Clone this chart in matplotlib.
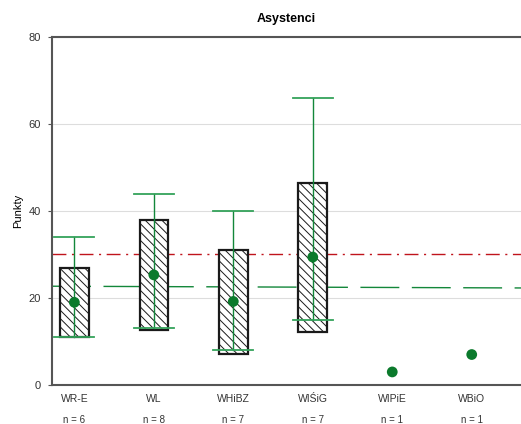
import matplotlib.pyplot as plt
from matplotlib.patches import Rectangle
from matplotlib.transforms import blended_transform_factory

categories = ["WR-E", "WL", "WHiBZ", "WIŚiG", "WIPiE", "WBiO"]
counts = [6, 8, 7, 7, 1, 1]
means = [19, 25.3, 19.2, 29.4, 3, 7]
box_low = [11, 12.6, 7.2, 12.2, None, None]
box_high = [27, 38, 31, 46.4, None, None]
whisk_low = [11, 13, 8, 15, None, None]
whisk_high = [34, 44, 40, 66, None, None]
ref_red = 30.0
ref_green = [22.7, 22.3]

GREEN = "#13873a"
CAP = "#34a25a"
DOT = "#0b7a2c"


def main():
    plt.rcParams['font.family'] = ['Liberation Sans', 'DejaVu Sans']
    plt.rcParams['hatch.linewidth'] = 0.7
    plt.rcParams['hatch.color'] = '#222222'

    fig = plt.figure(figsize=(5.21, 4.24), dpi=100)
    ax = fig.add_axes([0.1, 0.092, 0.9, 0.821])

    x = list(range(len(categories)))
    box_w = 0.36
    cap_w = 0.25

    for i in x:
        if box_low[i] is not None:
            ax.add_patch(Rectangle((i - box_w / 2, box_low[i]), box_w,
                                   box_high[i] - box_low[i], facecolor='white',
                                   edgecolor='#1a1a1a', hatch='\\\\\\\\', lw=1.6, zorder=2))
        if whisk_low[i] is not None:
            ax.plot([i, i], [whisk_low[i], whisk_high[i]], color=GREEN, lw=1, zorder=3)
            for v in (whisk_low[i], whisk_high[i]):
                ax.plot([i - cap_w, i + cap_w], [v, v], color=CAP, lw=1.3, zorder=3)

    # reference levels
    ax.axhline(ref_red, color='#c0141c', lw=1, dashes=(10, 4, 1.5, 4), zorder=1)
    ax.plot([-0.28, 5.62], ref_green, color=GREEN, lw=1, dashes=(28, 9), zorder=1)

    ax.scatter(x, means, s=60, color=DOT, zorder=4, edgecolors='none')

    ax.set_xlim(-0.28, 5.62)
    ax.set_ylim(0, 80)
    ax.set_yticks([0, 20, 40, 60, 80])
    ax.set_xticks([])
    ax.grid(axis='y', color='#dddddd', lw=0.8)
    ax.set_axisbelow(True)

    for side in ('left', 'bottom', 'top'):
        ax.spines[side].set_color('#555555')
        ax.spines[side].set_linewidth(1.5)
    ax.spines['right'].set_visible(False)
    ax.tick_params(axis='y', labelsize=8, length=3, color='#555555', pad=5,
                   labelcolor='#333333')

    trans = blended_transform_factory(ax.transData, ax.transAxes)
    for i, (name, n) in enumerate(zip(categories, counts)):
        ax.text(i, -0.04, name, transform=trans, ha='center', va='center',
                fontsize=7.5, color='#333333')
        ax.text(i, -0.1, f"n = {n}", transform=trans, ha='center', va='center',
                fontsize=7, color='#333333')

    ax.set_ylabel('Punkty', fontsize=8, labelpad=4)
    ax.set_title('Asystenci', fontsize=9, fontweight='bold', pad=11)

    plt.savefig("out.png", dpi=100)


if __name__ == "__main__":
    main()
